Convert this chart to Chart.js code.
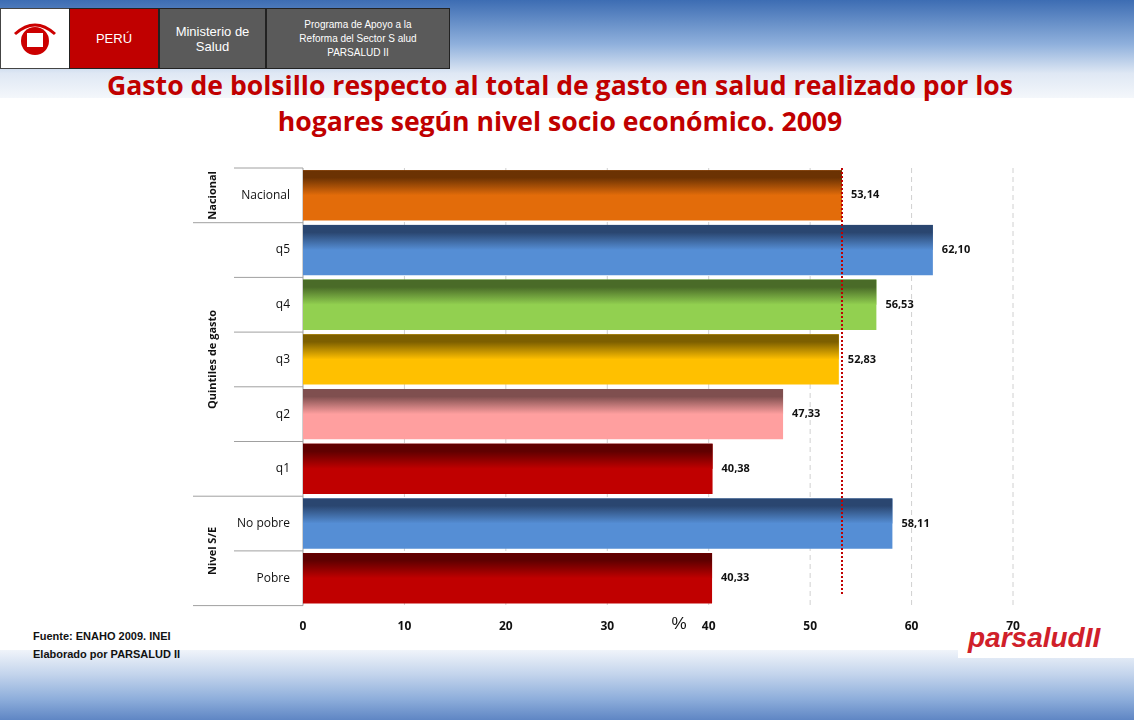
<!DOCTYPE html>
<html><head><meta charset="utf-8">
<script src="https://cdn.jsdelivr.net/npm/chart.js@4"></script>
<style>
body{margin:0;width:1134px;height:720px;overflow:hidden;font-family:"Liberation Sans",Arial,sans-serif;background:#fff;position:relative}
.top{position:absolute;left:0;top:0;width:1134px;height:98px;background:linear-gradient(180deg,#3d6db3 0%,#8fb0dc 45%,#dfe8f4 75%,#f4f7fb 100%)}
.bot{position:absolute;left:0;top:650px;width:1134px;height:70px;background:linear-gradient(180deg,#f0f4fa 0%,#c3d4ec 35%,#8eaedb 70%,#5f86c4 100%)}
.box{position:absolute;top:8px;height:59px;border:1px solid #222;color:#fff;display:flex;align-items:center;justify-content:center;text-align:center}
h1{position:absolute;left:0;width:1120px;top:67px;margin:0;text-align:center;color:#c00000;font:bold 26.6px "Open Sans","Liberation Sans",sans-serif;line-height:36px}
canvas{position:absolute;left:0;top:0;z-index:2}
.src{position:absolute;left:33px;top:627px;font:bold 11px "Liberation Sans",Arial;line-height:18px;color:#111}
.logo{position:absolute;left:958px;top:602px;width:176px;height:56px;background:#fff;color:#d0202a;font:italic bold 28px "Liberation Sans";padding:20px 0 0 10px;box-sizing:border-box;z-index:1}
</style></head><body>
<div class="top"></div><div class="bot"></div>
<div class="box" style="left:0;width:68px;background:#fff;border-color:#444"><svg width="50" height="50"><circle cx="25" cy="27" r="14" fill="#c00"/><rect x="17" y="19" width="16" height="14" fill="#fff"/><path d="M5 20 Q25 2 45 20" stroke="#c00" stroke-width="3" fill="none"/></svg></div>
<div class="box" style="left:69px;width:88px;background:#c00000;font-size:13px">PERÚ</div>
<div class="box" style="left:159px;width:105px;background:#5a5a5a;font-size:13px">Ministerio de<br>Salud</div>
<div class="box" style="left:266px;width:182px;background:#5a5a5a;font-size:10px;line-height:14px">Programa de Apoyo a la<br>Reforma del Sector S alud<br>PARSALUD  II</div>
<h1>Gasto de bolsillo respecto al total de gasto en salud realizado por los<br>hogares según nivel socio económico. 2009</h1>
<div class="logo">parsaludII</div>
<canvas id="c" width="1134" height="720"></canvas>
<div class="src">Fuente: ENAHO 2009. INEI<br>Elaborado por PARSALUD II</div>
<script>
const categories=["Nacional","q5","q4","q3","q2","q1","No pobre","Pobre"];
const values=[53.14,62.10,56.53,52.83,47.33,40.38,58.11,40.33];
const baseColors=["#e36c0a","#558ed5","#92d050","#ffc000","#ff9f9f","#c00000","#558ed5","#c00000"];
const topColors=["#6b3203","#2a4670","#4a6b28","#7d5f00","#7f4f4f","#600000","#2a4670","#600000"];
const groups=[{label:"Nacional",from:0,to:0},{label:"Quintiles de gasto",from:1,to:5},{label:"Nivel S/E",from:6,to:7}];
const refLine=53.14;
const xTicks=[0,10,20,30,40,50,60,70];
const fmt=v=>v.toFixed(2).replace('.',',');

const deco={id:'deco',
 beforeDatasetsDraw(ch){const {ctx,chartArea:a,scales:{x,y}}=ch;ctx.save();
  ctx.strokeStyle='#d0d0d0';ctx.setLineDash([5,4]);ctx.lineWidth=1;
  xTicks.slice(1).forEach(t=>{const px=x.getPixelForValue(t);ctx.beginPath();ctx.moveTo(px,a.top);ctx.lineTo(px,a.bottom);ctx.stroke();});
  ctx.setLineDash([]);ctx.strokeStyle='#a0a0a0';
  ctx.beginPath();ctx.moveTo(a.left,a.top);ctx.lineTo(a.left,a.bottom);ctx.stroke();
  ctx.beginPath();ctx.moveTo(234,a.top);ctx.lineTo(a.left,a.top);ctx.stroke();
  ctx.beginPath();ctx.moveTo(193,a.bottom);ctx.lineTo(a.left,a.bottom);ctx.stroke();
  const step=(a.bottom-a.top)/categories.length;
  categories.forEach((c,i)=>{const cy=y.getPixelForValue(i);
   if(i>0){const sep=cy-step/2;const g=groups.some(g=>g.from===i);ctx.beginPath();ctx.moveTo(g?193:234,sep);ctx.lineTo(a.left,sep);ctx.stroke();}
   ctx.fillStyle='#111';ctx.font='12px "Open Sans",sans-serif';ctx.textAlign='right';ctx.textBaseline='middle';ctx.fillText(c,290,cy);});
  groups.forEach(g=>{const cy=(y.getPixelForValue(g.from)+y.getPixelForValue(g.to))/2;ctx.save();ctx.translate(213,cy);ctx.rotate(-Math.PI/2);
   ctx.font='bold 11px "Open Sans",sans-serif';ctx.textAlign='center';ctx.textBaseline='middle';ctx.fillStyle='#111';ctx.fillText(g.label,0,0);ctx.restore();});
  ctx.restore();},
 afterDatasetsDraw(ch){const {ctx,chartArea:a,scales:{x}}=ch;ctx.save();
  ch.getDatasetMeta(0).data.forEach((b,i)=>{const h=b.height,t=b.y-h/2;const g=ctx.createLinearGradient(0,t,0,t+h*0.5);
   g.addColorStop(0,topColors[i]);g.addColorStop(0.3,topColors[i]);g.addColorStop(1,baseColors[i]);ctx.fillStyle=g;ctx.fillRect(b.base,t,b.x-b.base,h*0.5);
   ctx.fillStyle='#111';ctx.font='bold 11px "Open Sans",sans-serif';ctx.textAlign='left';ctx.textBaseline='middle';ctx.fillText(fmt(values[i]),b.x+9,b.y);});
  const px=x.getPixelForValue(refLine);ctx.strokeStyle='#c00000';ctx.lineWidth=2;ctx.setLineDash([2,2]);
  ctx.beginPath();ctx.moveTo(px,a.top);ctx.lineTo(px,a.bottom-10);ctx.stroke();
  ctx.setLineDash([]);ctx.fillStyle='#111';ctx.font='17px "Liberation Sans"';ctx.textAlign='center';ctx.textBaseline='middle';ctx.fillText('%',679,624);
  ctx.restore();}};

new Chart(document.getElementById('c'),{type:'bar',
 data:{labels:categories,datasets:[{data:values,backgroundColor:baseColors,barPercentage:0.92,categoryPercentage:1}]},
 options:{indexAxis:'y',responsive:false,animation:false,events:[],
  layout:{padding:{left:303,right:121,top:168,bottom:80}},
  plugins:{legend:{display:false},tooltip:{enabled:false}},
  scales:{x:{min:0,max:70,afterBuildTicks:s=>{s.ticks=xTicks.map(v=>({value:v}));},grid:{display:false},border:{display:false},
    ticks:{color:'#111',autoSkip:false,font:{weight:'bold',size:12,family:'"Open Sans"'},padding:6}},
   y:{display:false}}},
 plugins:[deco]});
</script></body></html>
